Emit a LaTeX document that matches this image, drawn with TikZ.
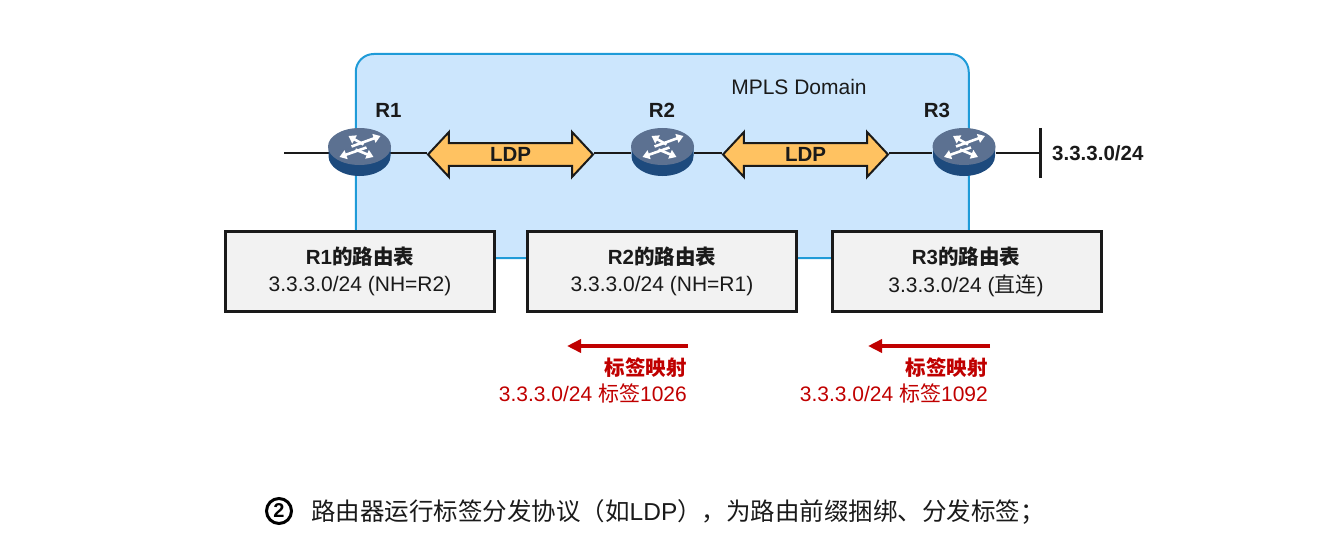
\documentclass[tikz,border=0pt]{standalone}
\usepackage{fontspec}
\setmainfont{Liberation Sans}
\newfontfamily\cjk{Noto Sans CJK SC}
\usetikzlibrary{shapes.arrows,shapes.geometric,arrows.meta}
\definecolor{domainfill}{HTML}{CCE6FD}
\definecolor{domainline}{HTML}{1F9BD8}
\definecolor{ldpfill}{HTML}{FFC261}
\definecolor{tablefill}{HTML}{F2F2F2}
\definecolor{inkblack}{HTML}{1A1A1A}
\definecolor{labelred}{HTML}{C00000}
\definecolor{routertop}{HTML}{5C7191}
\definecolor{routerbase}{HTML}{1D4A7D}
\newcommand{\zh}[1]{{\cjk #1}}
\newcommand{\routerbody}[1]{%
  \begin{scope}[shift={(#1)}]
    \fill[routerbase] (-31,-6.5) -- (-31,3) arc[start angle=180,end angle=0,x radius=31,y radius=20] -- (31,-6.5) -- cycle;
    \fill[routertop] (0,-6.5) ellipse[x radius=31.5,y radius=18.5];
    \draw[routerarrow] (-8,-6.5) -- (21,-17);
    \draw[routerarrow] (4,-8.5) -- (-11,-17);
    \draw[routerarrow] (7,-5.5) -- (-20,4);
    \draw[routerarrow] (-4,-3.5) -- (14,4);
  \end{scope}}
\tikzset{
  x=1pt,y=-1pt,
  plain/.style={font=\fontsize{21}{24}\selectfont,text=inkblack,inner sep=0pt},
  strong/.style={plain,font=\fontsize{20.5}{24}\selectfont\bfseries},
  domainbox/.style={draw=domainline,fill=domainfill,line width=2pt,rounded corners=18pt,minimum width=613pt,minimum height=204pt,inner sep=0pt},
  routernode/.style={ellipse,minimum width=63pt,minimum height=49pt,inner sep=0pt},
  routerarrow/.style={draw=white,line width=2.6pt,-{Triangle[length=7pt,width=9pt]}},
  wire/.style={draw=inkblack,line width=2.5pt},
  ldparrow/.style={double arrow,draw=inkblack,fill=ldpfill,line width=2pt,minimum height=165pt,minimum width=45pt,
    double arrow head extend=8pt,double arrow tip angle=94,inner sep=0pt,strong},
  tablebox/.style={draw=inkblack,fill=tablefill,line width=3pt,minimum width=269pt,minimum height=80pt,inner sep=0pt},
  maplabel/.style={plain,text=labelred,anchor=east},
  mapbold/.style={strong,text=labelred,anchor=east},
  maparrow/.style={draw=labelred,line width=3.5pt,-{Triangle[length=14pt,width=13pt]}},
}
\begin{document}
\begin{tikzpicture}
\useasboundingbox (0,0) rectangle (1319,559);
% MPLS domain backdrop
\node[domainbox] (domain) at (662.25,156) {};
\node[plain] (domainname) at (799,87) {MPLS Domain};

% routers and attached segments
\node[routernode] (r1) at (359.5,153) {};
\node[routernode] (r2) at (662.5,153) {};
\node[routernode] (r3) at (964,153) {};
\node[ldparrow] (ldp1) at (510.5,154.5) {\raisebox{-1pt}{LDP}};
\node[ldparrow] (ldp2) at (805.5,154.5) {\raisebox{-1pt}{LDP}};
\coordinate (lan) at (284,153);
\coordinate (stub) at (1040.5,153);
\coordinate (stubtop) at (1040.5,128);
\coordinate (stubbot) at (1040.5,178);
\draw[wire] (lan) -- (r1.east);
\draw[wire] (r1.east) -- (r1.east -| ldp1.west);
\draw[wire] (r2.west -| ldp1.east) -- (r2.west);
\draw[wire] (r2.east) -- (r2.east -| ldp2.west);
\draw[wire] (r3.west -| ldp2.east) -- (r3.west);
\draw[wire] (r3.east) -- (stub);
\draw[wire] (stubtop) -- (stubbot);
\routerbody{r1}
\routerbody{r2}
\routerbody{r3}
\node[strong] (r1name) at (388.5,110) {R1};
\node[strong] (r2name) at (662,110) {R2};
\node[strong] (r3name) at (937,110) {R3};
\node[strong,anchor=west] (prefix) at (1052,153.5) {3.3.3.0/24};

% routing tables
\node[tablebox] (t1) at (359.5,271) {};
\node[tablebox] (t2) at (662,271) {};
\node[tablebox] (t3) at (966.5,271) {};
\node[strong] (t1title) at (360,257) {R1\zh{的路由表}};
\node[strong] (t2title) at (662,257) {R2\zh{的路由表}};
\node[strong] (t3title) at (966,257) {R3\zh{的路由表}};
\node[plain] (t1row) at (360,286) {3.3.3.0/24 (NH=R2)};
\node[plain] (t2row) at (662,286) {3.3.3.0/24 (NH=R1)};
\node[plain] (t3row) at (966,286) {3.3.3.0/24 (\zh{直连})};

% label mappings
\coordinate (m1tail) at (688,346);
\coordinate (m1tip) at (567,346);
\coordinate (m2tail) at (990,346);
\coordinate (m2tip) at (868,346);
\draw[maparrow] (m1tail) -- (m1tip);
\draw[maparrow] (m2tail) -- (m2tip);
\node[mapbold] (m1head) at (687,368) {\zh{标签映射}};
\node[mapbold] (m2head) at (988,368) {\zh{标签映射}};
\node[maplabel] (m1body) at (687,393) {3.3.3.0/24 \zh{标签}1026};
\node[maplabel] (m2body) at (988,393) {3.3.3.0/24 \zh{标签}1092};

% step caption
\node[circle,draw=black,line width=3pt,minimum size=25pt,inner sep=0pt,font=\fontsize{20}{24}\selectfont\bfseries] (stepmark) at (279,511) {2};
\node[plain,anchor=west,font=\fontsize{24.5}{28}\selectfont] (caption) at (311,512)
  {\zh{路由器运行标签分发协议（如}LDP\zh{），为路由前缀捆绑、分发标签；}};
\end{tikzpicture}
\end{document}
